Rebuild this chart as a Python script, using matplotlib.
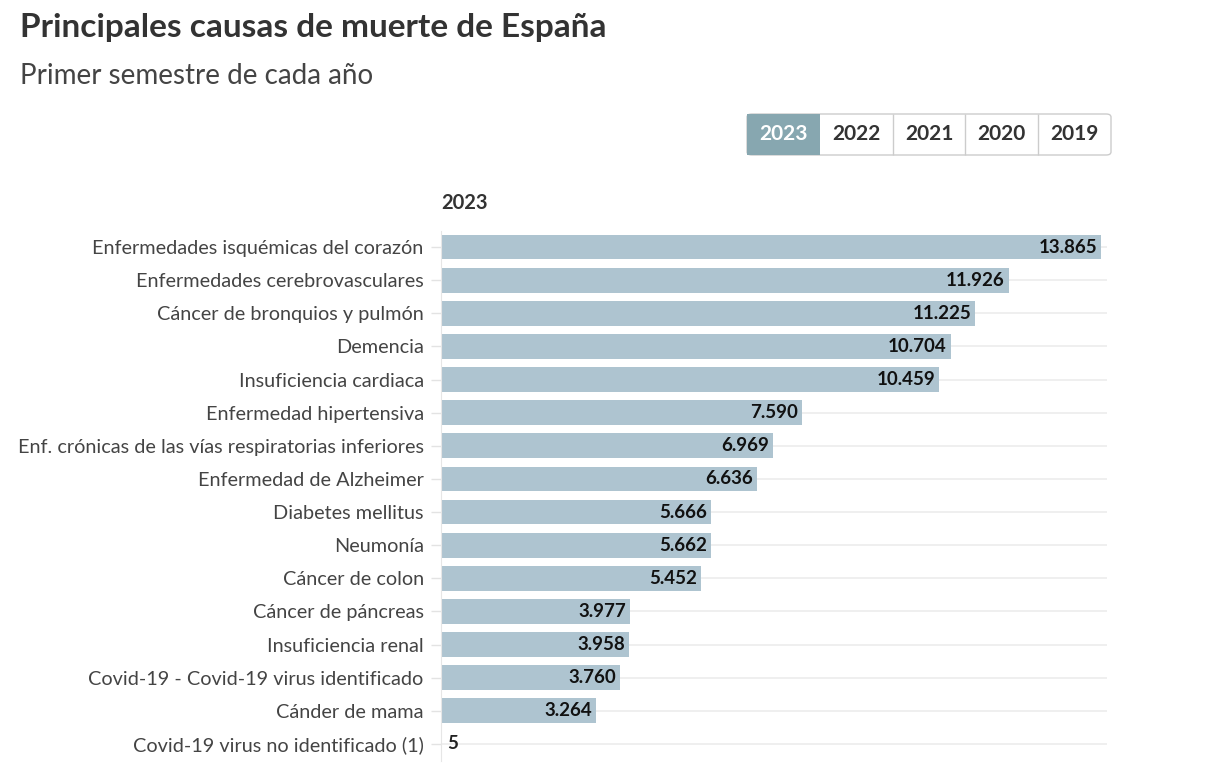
import matplotlib.pyplot as plt
from matplotlib.patches import FancyBboxPatch, Rectangle

plt.rcParams['font.family'] = ['Lato', 'DejaVu Sans']

# Data (primer semestre 2023)
causas = [
    'Enfermedades isquémicas del corazón',
    'Enfermedades cerebrovasculares',
    'Cáncer de bronquios y pulmón',
    'Demencia',
    'Insuficiencia cardiaca',
    'Enfermedad hipertensiva',
    'Enf. crónicas de las vías respiratorias inferiores',
    'Enfermedad de Alzheimer',
    'Diabetes mellitus',
    'Neumonía',
    'Cáncer de colon',
    'Cáncer de páncreas',
    'Insuficiencia renal',
    'Covid-19 - Covid-19 virus identificado',
    'Cánder de mama',
    'Covid-19 virus no identificado (1)',
]
muertes = [13865, 11926, 11225, 10704, 10459, 7590, 6969, 6636,
           5666, 5662, 5452, 3977, 3958, 3760, 3264, 5]
years = ['2023', '2022', '2021', '2020', '2019']

W, H = 1219, 779
fig = plt.figure(figsize=(W / 100, H / 100), dpi=100)
fig.patch.set_facecolor('white')

# axes placement in pixels
left, right, top, bottom = 441, 1107, 230.5, 760.5
ax = fig.add_axes([left / W, 1 - bottom / H, (right - left) / W, (bottom - top) / H])

bar_color = '#aec4d0'
ypos = list(range(len(causas)))
ax.barh(ypos, muertes, height=0.75, color=bar_color, zorder=2)
ax.set_ylim(len(causas) - 0.5, -0.5)
ax.set_xlim(0, 13865 * (right - left) / (1101 - left))

for y in ypos:
    ax.axhline(y, color='#ececec', lw=1.2, zorder=1)

def fmt(v):
    return f'{v:,}'.replace(',', '.')

for y, v in zip(ypos, muertes):
    if v > 1000:
        ax.text(v - 80, y, fmt(v), ha='right', va='center', fontsize=13.5,
                fontweight='bold', color='#111111', zorder=3)
    else:
        ax.text(v + 120, y, fmt(v), ha='left', va='center', fontsize=13.5,
                fontweight='bold', color='#222222', zorder=3)

ax.set_yticks(ypos)
ax.set_yticklabels(causas, fontsize=14.3, color='#444444')
ax.tick_params(axis='y', length=7, color='#e3e3e3', width=1, pad=5.5)
ax.set_xticks([])
for s in ['top', 'right', 'bottom']:
    ax.spines[s].set_visible(False)
ax.spines['left'].set_color('#e6e6e6')

# Titles
fig.text(20 / W, 1 - 28 / H, 'Principales causas de muerte de España', fontsize=24,
         fontweight='bold', color='#333333', va='center', ha='left')
fig.text(20 / W, 1 - 76 / H, 'Primer semestre de cada año', fontsize=20,
         color='#444444', va='center', ha='left')
fig.text(441 / W, 1 - 203 / H, '2023', fontsize=14.5, fontweight='bold',
         color='#333333', va='center', ha='left')

# Year buttons
bx0, bx1, by0, by1 = 747, 1111, 114, 155
bw = (bx1 - bx0) / len(years)
fig.add_artist(FancyBboxPatch((bx0 / W, 1 - by1 / H), (bx1 - bx0) / W, (by1 - by0) / H,
                              boxstyle='round,pad=0,rounding_size=0.004',
                              transform=fig.transFigure, facecolor='white',
                              edgecolor='#cccccc', lw=1, zorder=1))
for i, yr in enumerate(years):
    x0 = bx0 + i * bw
    active = i == 0
    if active:
        fig.add_artist(Rectangle((x0 / W, 1 - by1 / H), bw / W, (by1 - by0) / H,
                                 transform=fig.transFigure, facecolor='#87a7b0',
                                 edgecolor='none', zorder=2))
    elif i > 1:
        fig.add_artist(Rectangle((x0 / W, 1 - by1 / H), 0, (by1 - by0) / H,
                                 transform=fig.transFigure, facecolor='none',
                                 edgecolor='#cccccc', lw=1, zorder=2))
    fig.text((x0 + bw / 2) / W, 1 - (by0 + by1) / 2 / H, yr, fontsize=15,
             fontweight='bold', color='white' if active else '#333333',
             ha='center', va='center', zorder=3)

fig.savefig('out.png', dpi=100)
